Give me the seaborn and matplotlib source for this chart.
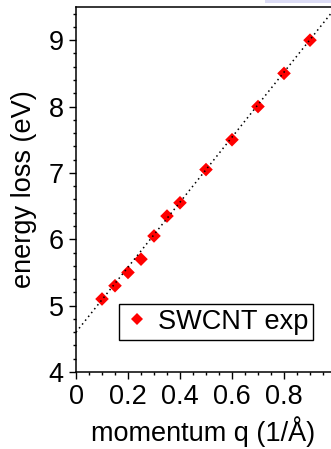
import matplotlib
matplotlib.use("Agg")
import matplotlib.pyplot as plt
import seaborn as sns
import pandas as pd
from matplotlib.patches import Rectangle
from matplotlib.ticker import MultipleLocator

# data
momentum_q = [0.10, 0.15, 0.20, 0.25, 0.30, 0.35, 0.40, 0.50, 0.60, 0.70, 0.80, 0.90]
energy_loss = [5.10, 5.30, 5.50, 5.70, 6.05, 6.35, 6.55, 7.05, 7.50, 8.00, 8.50, 9.00]
fit_q = [0.0, 0.98]
fit_E = [4.60, 9.40]
series_label = "SWCNT exp"
x_ticks = [0, 0.2, 0.4, 0.6, 0.8]
x_tick_labels = ["0", "0.2", "0.4", "0.6", "0.8"]
y_ticks = [4, 5, 6, 7, 8, 9]
y_tick_labels = ["4", "5", "6", "7", "8", "9"]

sns.set_style("ticks")
plt.rcParams['font.family'] = ['Liberation Sans', 'DejaVu Sans']
plt.rcParams['text.color'] = 'black'
plt.rcParams['axes.labelcolor'] = 'black'
plt.rcParams['xtick.color'] = 'black'
plt.rcParams['ytick.color'] = 'black'

df = pd.DataFrame({"q": momentum_q, "E": energy_loss, "series": series_label})
fit_df = pd.DataFrame({"q": fit_q, "E": fit_E})

fig = plt.figure(figsize=(3.31, 4.49), dpi=100)
ax = fig.add_axes([76/331, 77/449, 1 - 76/331, 365/449])

sns.scatterplot(data=df, x="q", y="E", hue="series", palette=["#ff0000"],
                marker="D", s=48, linewidth=0, ax=ax, zorder=2)
sns.lineplot(data=fit_df, x="q", y="E", color="black", linestyle=(0, (1, 2.2)),
             linewidth=1.1, ax=ax, zorder=3, legend=False)

ax.set_xlim(0, 255/260)
ax.set_ylim(4, 9.5)
ax.set_xticks(x_ticks)
ax.set_xticklabels(x_tick_labels)
ax.set_yticks(y_ticks)
ax.set_yticklabels(y_tick_labels)
ax.xaxis.set_minor_locator(MultipleLocator(0.05))
ax.yaxis.set_minor_locator(MultipleLocator(0.2))
ax.tick_params(axis="both", which="major", labelsize=19.5, length=5, width=1,
               color="black", labelcolor="black", direction="out", pad=4)
ax.tick_params(axis="both", which="minor", length=2.5, width=1, color="black",
               direction="out")
for side in ["left", "bottom", "top"]:
    ax.spines[side].set_color("black")
    ax.spines[side].set_linewidth(1.1)
ax.spines["right"].set_visible(False)

ax.set_xlabel("momentum q (1/Å)", fontsize=19.5, labelpad=4, color="black")
ax.set_ylabel("energy loss (eV)", fontsize=19.5, labelpad=8, color="black")

leg = ax.legend(loc="upper left", bbox_to_anchor=((119-76)/255, (372-304)/365),
                borderaxespad=0, fontsize=19.5, frameon=True, fancybox=False,
                markerscale=0.95, handletextpad=0.25, borderpad=0.18,
                handlelength=1.0, framealpha=1)
leg.get_frame().set_edgecolor("black")
leg.get_frame().set_linewidth(1)
for t in leg.get_texts():
    t.set_color("black")

fig.patches.append(Rectangle((265/331, 446/449), 66/331, 3/449,
                             transform=fig.transFigure, facecolor="#dcdcf5",
                             edgecolor="none", zorder=10))

fig.savefig("out.png", dpi=100)
